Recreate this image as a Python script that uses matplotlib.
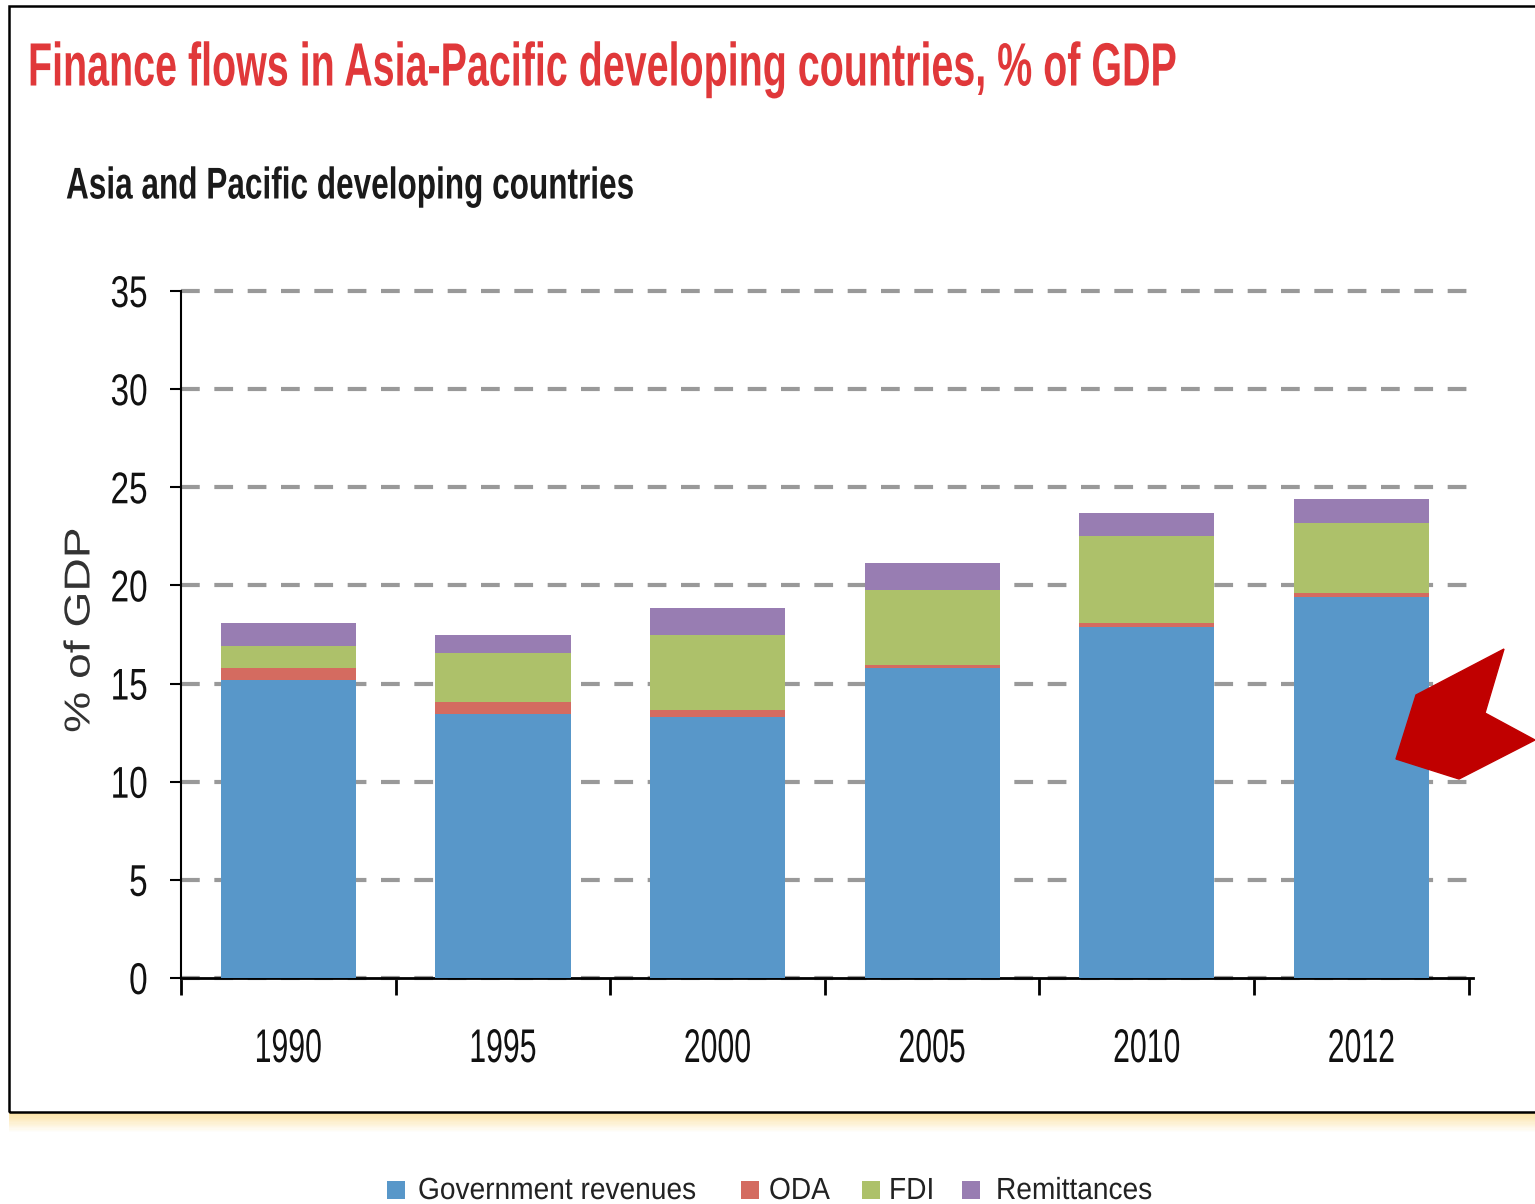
import matplotlib
matplotlib.use("Agg")
import matplotlib.pyplot as plt
import matplotlib.patches as mpatches
from matplotlib.patheffects import AbstractPathEffect
from matplotlib.transforms import Affine2D
import numpy as np

years = ['1990', '1995', '2000', '2005', '2010', '2012']
gov_revenues = [15.2, 13.45, 13.3, 15.8, 17.9, 19.4]
oda = [0.6, 0.6, 0.35, 0.15, 0.2, 0.2]
fdi = [1.1, 2.5, 3.8, 3.8, 4.4, 3.6]
remittances = [1.2, 0.9, 1.4, 1.4, 1.2, 1.2]

series_names = ['Government revenues', 'ODA', 'FDI', 'Remittances']
colors = ['#5897c9', '#d46b60', '#adc16a', '#987db2']


# no narrow font installed, so squash the glyph paths instead
class Squeeze(AbstractPathEffect):
    def __init__(self, sx, sy, x0, y0):
        super().__init__()
        self.sx, self.sy, self.x0, self.y0 = sx, sy, x0, y0

    def draw_path(self, renderer, gc, tpath, affine, rgbFace=None):
        t = affine + Affine2D().translate(-self.x0, -self.y0).scale(self.sx, self.sy) \
            .translate(self.x0, self.y0)
        renderer.draw_path(gc, tpath, t, rgbFace)


squeeze_list = []


def squeeze(txt, sx, sy=1.0):
    squeeze_list.append((txt, sx, sy))


plt.rcParams['font.family'] = ['Liberation Sans', 'DejaVu Sans']

fig = plt.figure(figsize=(15.35, 12.04), dpi=100)
W, H = 1535, 1204

# frame and shadow
for i, a in enumerate(np.linspace(0.8, 0.03, 16)):
    fig.patches.append(mpatches.Rectangle((9 / W, (H - 1114 - i * 1.2) / H), 1.0, 1.2 / H,
                                          transform=fig.transFigure, color='#fbdc8e',
                                          alpha=a, lw=0, zorder=0))
fig.patches.append(mpatches.Rectangle((9 / W, (H - 1112) / H), 1.2, (1112 - 6) / H,
                                      transform=fig.transFigure, fill=False,
                                      edgecolor='black', lw=1.8, zorder=1))

ax = fig.add_axes([181 / W, (H - 978) / H, (1473 - 181) / W, (978 - 291) / H])
x = np.arange(len(years))
bottom = np.zeros(len(years))
for vals, name, c in zip([gov_revenues, oda, fdi, remittances], series_names, colors):
    ax.bar(x, vals, width=0.63, bottom=bottom, color=c, label=name, zorder=3)
    bottom += np.array(vals)

ax.set_xlim(-0.5, 5.52)
ax.set_ylim(0, 35)
ax.set_yticks(range(0, 36, 5))
ax.yaxis.grid(True, color='#999999', lw=3, ls=(0, (4.5, 3.5)), zorder=0, clip_on=False)
ax.set_axisbelow(True)
for s in ['top', 'right']:
    ax.spines[s].set_visible(False)
ax.spines['left'].set_linewidth(1.5)
ax.spines['bottom'].set_linewidth(2)

ax.set_xticks(x)
ax.set_xticklabels(years, fontsize=34, color='#111111')
ax.set_xticks(np.arange(-0.5, 6, 1), minor=True)
ax.tick_params(axis='x', which='major', length=0, pad=36)
ax.tick_params(axis='x', which='minor', length=12, width=2, direction='out')
ax.tick_params(axis='y', length=8, width=1.5, pad=16, labelsize=32, labelcolor='#111111')
for t in ax.get_xticklabels():
    squeeze(t, 0.64)
for t in ax.get_yticklabels():
    squeeze(t, 0.75)

ylab = ax.set_ylabel('% of GDP', fontsize=26, color='#333333')
ax.yaxis.set_label_coords((80 - 181) / 1292, (978 - 630) / 687)
ylab.set_verticalalignment('center')
squeeze(ylab, 1.0, 1.28)

title = fig.text(28 / W, 1 - 70 / H,
                 'Finance flows in Asia-Pacific developing countries, % of GDP',
                 fontsize=34, fontweight='bold', color='#e0383a', va='center', ha='left')
squeeze(title, 0.835, 1.294)
sub = fig.text(66 / W, 1 - 187 / H, 'Asia and Pacific developing countries',
               fontsize=32, fontweight='bold', color='#1a1a1a', va='center', ha='left')
squeeze(sub, 0.71)

# legend along the bottom edge
leg_box_x = [387, 741, 862, 962]
leg_text_x = [418, 769, 889, 996]
for bx, tx, name, c in zip(leg_box_x, leg_text_x, series_names, colors):
    fig.patches.append(mpatches.Rectangle((bx / W, 1 - 1199 / H), 18 / W, 18 / H,
                                          transform=fig.transFigure, color=c, lw=0))
    lt = fig.text(tx / W, 1 - 1191 / H, name, fontsize=22, color='#222222',
                  va='center', ha='left')
    squeeze(lt, 0.92)

# red arrow marker on the right
arrow_pts = [(1504, 649), (1485, 713), (1535, 740), (1459, 779), (1396, 759), (1416, 695)]
fig.patches.append(mpatches.Polygon([(px / W, 1 - py / H) for px, py in arrow_pts],
                                    closed=True, transform=fig.transFigure,
                                    color='#c00000', zorder=10))

fig.canvas.draw()
renderer = fig.canvas.get_renderer()
for txt, sx, sy in squeeze_list:
    bb = txt.get_window_extent(renderer)
    ha = txt.get_ha()
    if txt.get_rotation() != 0:
        x0 = (bb.x0 + bb.x1) / 2
    elif ha == 'left':
        x0 = bb.x0
    elif ha == 'right':
        x0 = bb.x1
    else:
        x0 = (bb.x0 + bb.x1) / 2
    y0 = (bb.y0 + bb.y1) / 2
    txt.set_path_effects([Squeeze(sx, sy, x0, y0)])

fig.savefig('out.png', dpi=100)
